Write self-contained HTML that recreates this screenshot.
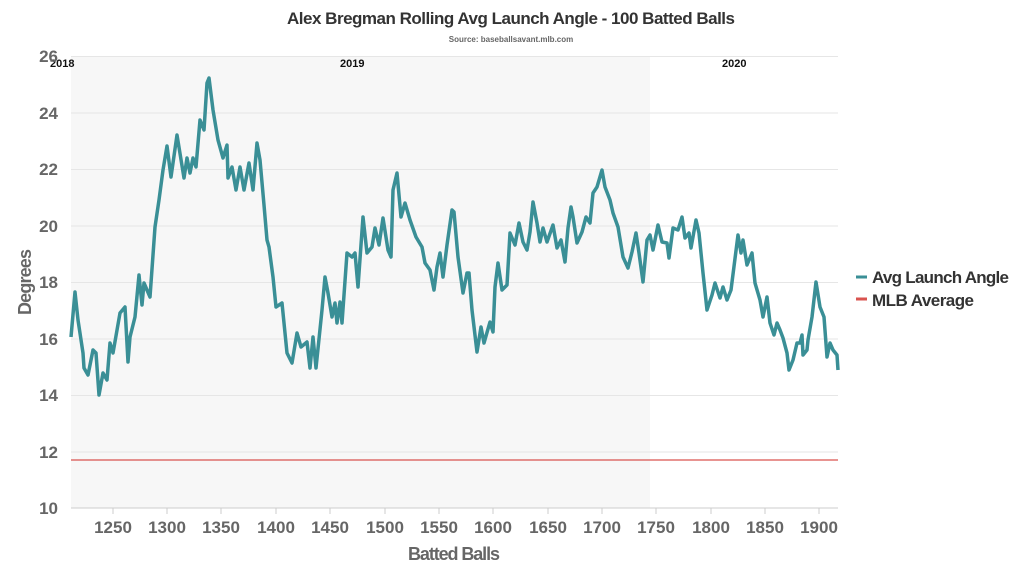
<!DOCTYPE html>
<html><head><meta charset="utf-8"><style>body{margin:0;background:#fff}svg{display:block}</style></head><body>
<svg width="1023" height="577" xmlns="http://www.w3.org/2000/svg" font-family="Liberation Sans, sans-serif">
<rect x="71" y="56" width="579" height="452" fill="#f7f7f7"/>
<g stroke="#e6e6e6" stroke-width="1">
<line x1="71" x2="838" y1="56.5" y2="56.5"/><line x1="71" x2="838" y1="113" y2="113"/><line x1="71" x2="838" y1="169.5" y2="169.5"/><line x1="71" x2="838" y1="226" y2="226"/><line x1="71" x2="838" y1="282.5" y2="282.5"/><line x1="71" x2="838" y1="339" y2="339"/><line x1="71" x2="838" y1="395.5" y2="395.5"/><line x1="71" x2="838" y1="452" y2="452"/><line x1="71" x2="838" y1="508" y2="508" stroke="#ccc"/>
</g>
<g stroke="#ccc"><line x1="113" x2="113" y1="508" y2="514"/><line x1="167" x2="167" y1="508" y2="514"/><line x1="221" x2="221" y1="508" y2="514"/><line x1="276" x2="276" y1="508" y2="514"/><line x1="330" x2="330" y1="508" y2="514"/><line x1="385" x2="385" y1="508" y2="514"/><line x1="439" x2="439" y1="508" y2="514"/><line x1="493" x2="493" y1="508" y2="514"/><line x1="548" x2="548" y1="508" y2="514"/><line x1="602" x2="602" y1="508" y2="514"/><line x1="656" x2="656" y1="508" y2="514"/><line x1="711" x2="711" y1="508" y2="514"/><line x1="765" x2="765" y1="508" y2="514"/><line x1="819" x2="819" y1="508" y2="514"/></g>
<line x1="71" x2="838" y1="460" y2="460" stroke="#d9534f" stroke-width="1.3"/>
<polyline fill="none" stroke="#3a8f96" stroke-width="3.5" stroke-linejoin="round" points="71,337 75,292 78,320 83,353 84,368 88,375 93,350 96,353 99,395 103,373 107,380 110,343 113,353 120,313 125,307 128,362 130,337 135,317 139,275 142,305 144,283 150,297 155,227 159,200 163,170 167,146 171,177 177,135 184,178 187,158 190,173 193,158 196,167 200,120 204,130 207,83 209,78 213,110 218,140 223,158 227,145 228,178 232,167 236,190 240,167 244,190 249,163 253,190 257,143 260,160 264,205 267,240 269,247 273,277 276,307 282,303 287,353 292,363 297,333 301,347 307,342 310,368 313,337 316,368 322,310 325,277 328,293 332,317 335,303 337,323 340,302 342,323 347,253 352,257 355,253 358,287 363,217 367,253 372,247 375,228 379,245 383,218 388,250 391,257 393,190 397,173 401,217 405,203 410,220 416,237 422,247 425,263 430,270 434,290 437,267 440,253 443,277 447,245 452,210 454,212 458,257 463,293 467,273 469,273 472,310 477,352 481,327 484,343 490,322 493,332 495,287 498,263 502,290 507,285 510,233 515,245 519,223 523,242 527,250 530,232 533,202 537,223 540,242 543,228 547,242 553,225 557,248 561,240 565,262 568,228 571,207 573,217 577,243 582,232 586,217 590,223 593,193 597,187 602,170 605,187 610,200 613,213 618,227 623,257 628,268 632,252 636,233 639,253 643,282 647,240 650,235 653,250 658,225 662,242 667,243 669,258 673,228 678,230 682,217 685,238 689,233 691,248 696,220 699,233 703,273 707,310 712,295 715,283 720,298 723,287 727,300 731,290 738,235 741,253 743,240 747,265 752,253 755,283 760,300 763,317 767,297 770,323 774,335 777,323 780,330 783,338 787,353 789,370 793,360 797,343 800,343 802,335 803,355 807,350 808,340 812,317 816,282 820,307 824,317 827,357 830,343 833,350 837,355 838,370"/>
<g font-weight="bold" font-size="11" fill="#111"><text x="50" y="67">2018</text><text x="340" y="67">2019</text><text x="722" y="67">2020</text></g>
<g font-weight="bold" font-size="17" fill="#666" text-anchor="end">
<text x="58" y="62">26</text><text x="58" y="119">24</text><text x="58" y="175">22</text><text x="58" y="232">20</text><text x="58" y="288">18</text><text x="58" y="345">16</text><text x="58" y="401">14</text><text x="58" y="458">12</text><text x="58" y="514">10</text></g>
<g font-weight="bold" font-size="17" fill="#666" text-anchor="middle">
<text x="113" y="533">1250</text><text x="167" y="533">1300</text><text x="221" y="533">1350</text><text x="276" y="533">1400</text><text x="330" y="533">1450</text><text x="385" y="533">1500</text><text x="439" y="533">1550</text><text x="493" y="533">1600</text><text x="548" y="533">1650</text><text x="602" y="533">1700</text><text x="656" y="533">1750</text><text x="711" y="533">1800</text><text x="765" y="533">1850</text><text x="819" y="533">1900</text>
<text x="454" y="560" font-size="18" textLength="92">Batted Balls</text>
<text transform="translate(31,282) rotate(-90)" font-size="18" textLength="66">Degrees</text></g>
<text x="511" y="24" text-anchor="middle" font-weight="bold" font-size="17" fill="#333" textLength="448">Alex Bregman Rolling Avg Launch Angle - 100 Batted Balls</text>
<text x="511" y="42" text-anchor="middle" font-weight="bold" font-size="8" fill="#666">Source: baseballsavant.mlb.com</text>
<line x1="856" x2="867" y1="277" y2="277" stroke="#3a8f96" stroke-width="3"/>
<line x1="856" x2="867" y1="299" y2="299" stroke="#d9534f" stroke-width="3"/>
<g font-weight="bold" font-size="17" fill="#333"><text x="872" y="283" textLength="137">Avg Launch Angle</text><text x="872" y="306" textLength="102">MLB Average</text></g>
</svg>
</body></html>
